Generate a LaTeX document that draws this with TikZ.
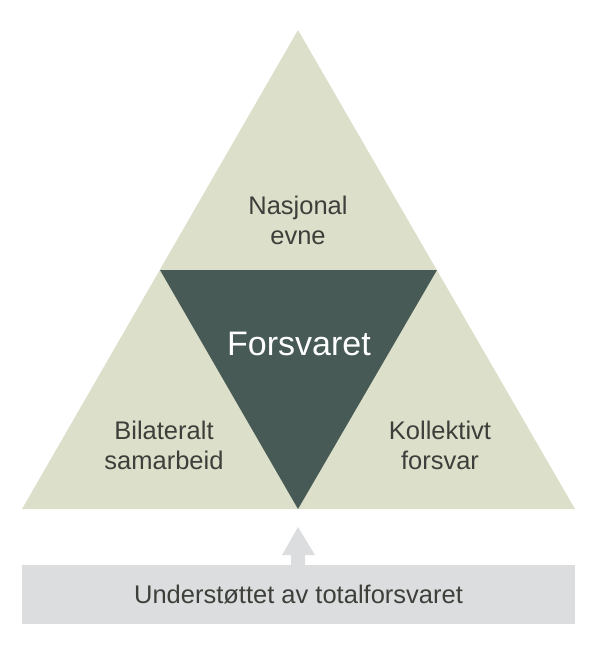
\documentclass[tikz,border=0pt]{standalone}
\usepackage{fontspec}
\setmainfont{Liberation Sans}
\usetikzlibrary{positioning}

\definecolor{lightgreen}{HTML}{DCDFCA}
\definecolor{darkgreen}{HTML}{475A56}
\definecolor{lightgrey}{HTML}{DCDDDF}
\definecolor{textgrey}{HTML}{3E3F3A}

\tikzset{
  txtlabel/.style={align=center, text=textgrey, font=\fontsize{25.5}{30}\selectfont, inner sep=0pt},
  core/.style={text=white, font=\fontsize{34}{40}\selectfont, inner sep=0pt}
}

\begin{document}
\begin{tikzpicture}[x=1pt, y=-1pt]
  \useasboundingbox (0,0) rectangle (600,657);

  \coordinate (top) at (298,30);
  \coordinate (bl) at (22,509);
  \coordinate (br) at (575,509);
  \coordinate (ml) at (160,270);
  \coordinate (mr) at (437,270);
  \coordinate (mb) at (298,509);

  \fill[lightgreen] (top) -- (br) -- (bl) -- cycle;
  \fill[darkgreen] (ml) -- (mr) -- (mb) -- cycle;

  \node[txtlabel] (n1) at (298,220) {Nasjonal\\evne};
  \node[txtlabel] (n2) at (164,445) {Bilateralt\\samarbeid};
  \node[txtlabel] (n3) at (440,445) {Kollektivt\\forsvar};
  \node[core] (n4) at (299,344) {Forsvaret};

  \node[fill=lightgrey, minimum width=553pt, minimum height=59pt, inner sep=0pt] (base) at (298.5,594.5) {};
  \node[txtlabel] (n5) at (base) {Understøttet av totalforsvaret};

  % arrow up to the triangle
  \fill[lightgrey] (291,566) -- (291,555) -- (282,555) -- (298,527) -- (315,555) -- (305,555) -- (305,566) -- cycle;
\end{tikzpicture}
\end{document}
